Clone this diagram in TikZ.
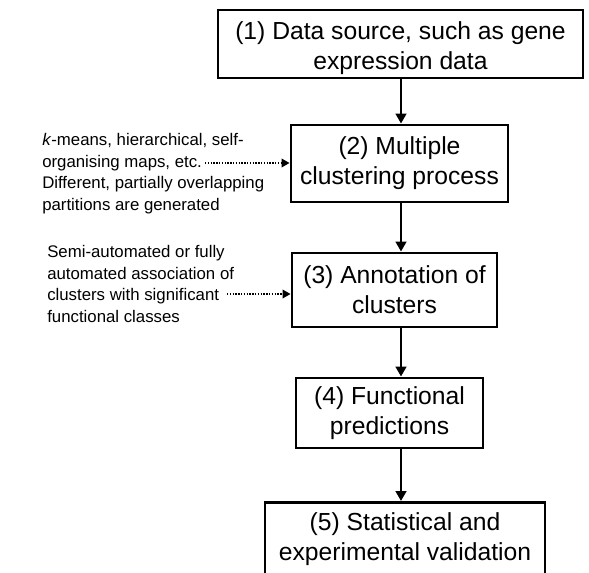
\documentclass[tikz,border=0pt]{standalone}
\usepackage{fontspec}
\setmainfont{Liberation Sans}
\usetikzlibrary{arrows.meta}
\begin{document}
\begin{tikzpicture}[x=0.75pt,y=-0.75pt,
  stepbox/.style={draw, line width=2.2pt, inner sep=0pt, align=center,
    font=\fontsize{18.5}{22.5}\selectfont},
  flow/.style={line width=2.2pt, -{Triangle[length=7.5pt,width=8pt]}},
  note/.style={align=left, inner sep=0pt, anchor=north west,
    font=\fontsize{12.6}{16.2}\selectfont},
  feed/.style={line width=1.1pt, densely dotted, -{Triangle[length=6pt,width=6.5pt]}}]
\useasboundingbox (0,0) rectangle (589,572);
\clip (0,0) rectangle (589,572);

% process steps
\node[stepbox, minimum width=365*0.75pt, minimum height=68*0.75pt]
  (s1) at (400.5,44) {\rule{0pt}{19.5pt}(1) Data source, such as gene\\expression data};
\node[stepbox, minimum width=217*0.75pt, minimum height=77*0.75pt]
  (s2) at (399.5,163.5) {(2) Multiple\\clustering process};
\node[stepbox, minimum width=205*0.75pt, minimum height=74*0.75pt]
  (s3) at (394.5,290) {(3) Annotation of\\clusters};
\node[stepbox, minimum width=187*0.75pt, minimum height=70*0.75pt]
  (s4) at (389.5,413) {(4) Functional\\predictions};
\node[stepbox, minimum width=280*0.75pt, minimum height=74*0.75pt, anchor=north]
  (s5) at (405,501) {(5) Statistical and\\experimental validation};

% vertical flow axis
\coordinate (axis) at (401,0);
\draw[flow] (s1.south -| axis) -- (s2.north -| axis);
\draw[flow] (s2.south -| axis) -- (s3.north -| axis);
\draw[flow] (s3.south -| axis) -- (s4.north -| axis);
\draw[flow] (s4.south -| axis) -- (s5.north -| axis);

% side notes
\node[note] (n1) at (42,133) {\textit{k}-means, hierarchical, self-\\organising maps, etc.\\Different, partially overlapping\\partitions are generated};
\node[note] (n2) at (47,245) {Semi-automated or fully\\automated association of\\clusters with significant\\functional classes};

\coordinate (f1) at (205,163);
\coordinate (f2) at (227,294);
\draw[feed] (f1) -- (f1 -| s2.west);
\draw[feed] (f2) -- (f2 -| s3.west);
\end{tikzpicture}
\end{document}
